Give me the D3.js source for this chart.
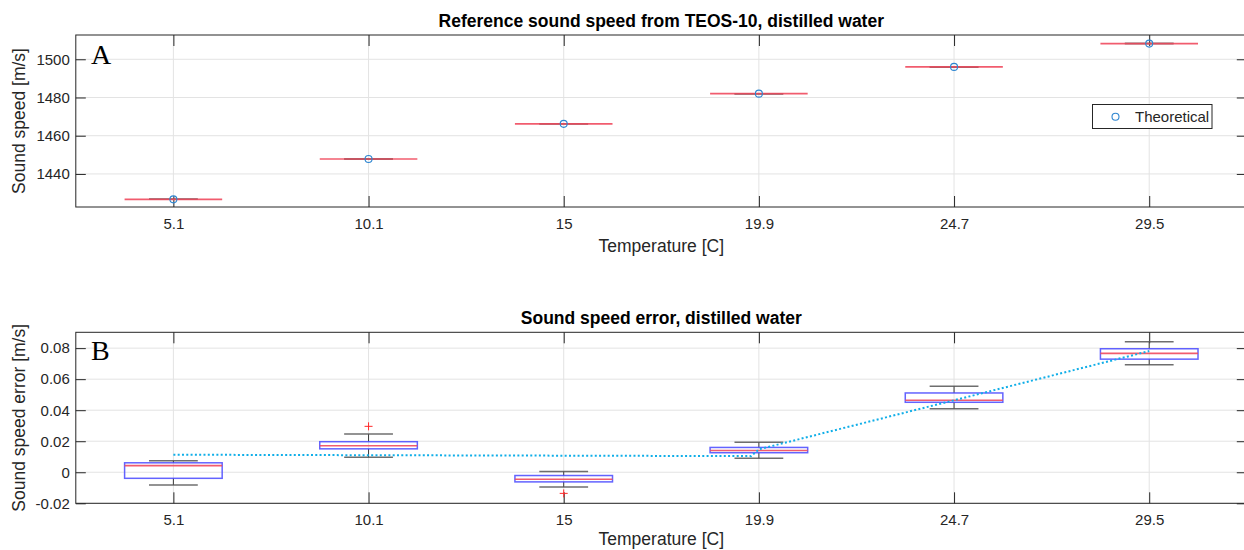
<!DOCTYPE html>
<html>
<head>
<meta charset="utf-8">
<script src="https://cdn.jsdelivr.net/npm/d3@7/dist/d3.min.js"></script>
<style>
  html, body { margin: 0; padding: 0; background: #ffffff; }
  svg { display: block; font-family: "Liberation Sans", Arial, Helvetica, sans-serif; }
</style>
</head>
<body>
<svg id="fig" width="1244" height="550"></svg>
<script>
// Temperature categories (deg C)
const categories = ["5.1", "10.1", "15", "19.9", "24.7", "29.5"];

// Panel A: reference sound speed (m/s) per temperature
const speedRef = [1426.7, 1447.8, 1466.2, 1482.0, 1496.0, 1508.2];
const speedTicks = [1440, 1460, 1480, 1500];

// Panel B: sound speed error box statistics (m/s)
const errLo  = [-0.0082, 0.0097, -0.0095, 0.0091, 0.0410, 0.0693];
const errQ1  = [-0.0039, 0.0151, -0.0062, 0.0126, 0.0451, 0.0729];
const errMed = [ 0.0043, 0.0171, -0.0045, 0.0140, 0.0464, 0.0766];
const errQ3  = [ 0.0061, 0.0197, -0.0021, 0.0160, 0.0511, 0.0796];
const errHi  = [ 0.0074, 0.0246,  0.0005, 0.0194, 0.0555, 0.0841];
const outlierCat = [1, 2];
const outlierVal = [0.0296, -0.0136];
const errTicks = [-0.02, 0, 0.02, 0.04, 0.06, 0.08];
const errTickLabels = ["-0.02", "0", "0.02", "0.04", "0.06", "0.08"];

// Panel B: dotted trend of the error
const trendPos = [1, 2, 3, 3.96, 4, 5, 6];
const trendVal = [0.0113, 0.0110, 0.0107, 0.0104, 0.0148, 0.0464, 0.0781];

const svg = d3.select("#fig");
const AX = "#262626";
const GRID = "#e3e3e3";

const x = d3.scaleLinear().domain([0.5, 6.5]).range([75.8, 1246.8]);
const catPos = categories.map((c, i) => i + 1);

function panel(cfg) {
  const g = svg.append("g");
  const y = cfg.y;
  const [y0, y1] = y.range(); // bottom, top

  // grid
  g.append("g").selectAll("line.gy").data(cfg.ticks).join("line")
    .attr("x1", x.range()[0]).attr("x2", x.range()[1])
    .attr("y1", d => y(d)).attr("y2", d => y(d))
    .attr("stroke", GRID).attr("stroke-width", 1);
  g.append("g").selectAll("line.gx").data(catPos).join("line")
    .attr("x1", d => x(d)).attr("x2", d => x(d))
    .attr("y1", y1).attr("y2", y0)
    .attr("stroke", GRID).attr("stroke-width", 1);

  // axes with inward ticks
  const left = d3.axisLeft(y).tickValues(cfg.ticks).tickSizeInner(-10).tickSizeOuter(0).tickPadding(6)
    .tickFormat((d, i) => cfg.tickLabels[i]);
  const right = d3.axisRight(y).tickValues(cfg.ticks).tickSizeInner(-10).tickSizeOuter(0).tickFormat("");
  const bottom = d3.axisBottom(x).tickValues(catPos).tickSizeInner(-11).tickSizeOuter(0).tickPadding(11)
    .tickFormat((d, i) => categories[i]);
  const top = d3.axisTop(x).tickValues(catPos).tickSizeInner(-11).tickSizeOuter(0).tickFormat("");

  const styleAxis = a => {
    a.select(".domain").remove();
    a.selectAll(".tick line").attr("stroke", AX).attr("stroke-width", 1);
    a.selectAll(".tick text").attr("fill", AX).attr("font-size", 15)
      .attr("font-family", "Liberation Sans, Arial, Helvetica, sans-serif");
  };
  g.append("g").attr("transform", `translate(${x.range()[0]},0)`).call(left).call(styleAxis);
  g.append("g").attr("transform", `translate(${x.range()[1]},0)`).call(right).call(styleAxis);
  g.append("g").attr("transform", `translate(0,${y0})`).call(bottom).call(styleAxis);
  g.append("g").attr("transform", `translate(0,${y1})`).call(top).call(styleAxis);

  g.append("rect").attr("x", x.range()[0]).attr("y", y1)
    .attr("width", x.range()[1] - x.range()[0]).attr("height", y0 - y1)
    .attr("fill", "none").attr("stroke", AX).attr("stroke-width", 1);

  // titles and labels
  const cx = (x.range()[0] + x.range()[1]) / 2;
  g.append("text").attr("x", cx).attr("y", y1 - 8).attr("text-anchor", "middle")
    .attr("font-size", 17.5).attr("font-weight", "bold").attr("fill", "#000")
    .text(cfg.title);
  g.append("text").attr("x", cx).attr("y", y0 + cfg.xlabelDy).attr("text-anchor", "middle")
    .attr("font-size", 17.5).attr("fill", AX).text("Temperature [C]");
  g.append("text").attr("transform", `translate(25,${(y0 + y1) / 2}) rotate(-90)`)
    .attr("text-anchor", "middle").attr("font-size", 17.5).attr("fill", AX).text(cfg.ylabel);
  g.append("text").attr("x", 91).attr("y", y1 + cfg.letterDy)
    .attr("font-family", "Liberation Serif, Times New Roman, serif")
    .attr("font-size", 28).attr("fill", "#000").text(cfg.letter);

  return g;
}

function boxes(g, y, lo, q1, med, q3, hi) {
  const bw = 0.25, cw = 0.125;
  const idx = d3.range(categories.length);
  // whiskers
  g.append("g").selectAll("line").data(idx).join("line")
    .attr("x1", i => x(i + 1)).attr("x2", i => x(i + 1))
    .attr("y1", i => y(hi[i])).attr("y2", i => y(q3[i]))
    .attr("stroke", "#3a3a3a").attr("stroke-width", 1);
  g.append("g").selectAll("line").data(idx).join("line")
    .attr("x1", i => x(i + 1)).attr("x2", i => x(i + 1))
    .attr("y1", i => y(q1[i])).attr("y2", i => y(lo[i]))
    .attr("stroke", "#3a3a3a").attr("stroke-width", 1);
  // caps
  [hi, lo].forEach(arr => {
    g.append("g").selectAll("line").data(idx).join("line")
      .attr("x1", i => x(i + 1 - cw)).attr("x2", i => x(i + 1 + cw))
      .attr("y1", i => y(arr[i])).attr("y2", i => y(arr[i]))
      .attr("stroke", "#555").attr("stroke-width", 1.5).attr("stroke-opacity", 0.85);
  });
  // boxes
  g.append("g").selectAll("rect").data(idx).join("rect")
    .attr("x", i => x(i + 1 - bw)).attr("width", i => x(i + 1 + bw) - x(i + 1 - bw))
    .attr("y", i => y(q3[i])).attr("height", i => Math.max(0, y(q1[i]) - y(q3[i])))
    .attr("fill", "none").attr("stroke", "#4848ff").attr("stroke-width", 1.5).attr("stroke-opacity", 0.85);
  // medians
  g.append("g").selectAll("line").data(idx).join("line")
    .attr("x1", i => x(i + 1 - bw)).attr("x2", i => x(i + 1 + bw))
    .attr("y1", i => y(med[i])).attr("y2", i => y(med[i]))
    .attr("stroke", "#f04a5e").attr("stroke-width", 1.6).attr("stroke-opacity", 0.9);
}

// ---- Panel A ----
const yA = d3.scaleLinear().domain([1422.7, 1512.7]).range([207, 35]);
const gA = panel({
  y: yA, ticks: speedTicks, tickLabels: speedTicks.map(String),
  title: "Reference sound speed from TEOS-10, distilled water",
  ylabel: "Sound speed [m/s]", letter: "A", letterDy: 28.5, xlabelDy: 45
});
boxes(gA, yA, speedRef, speedRef, speedRef, speedRef, speedRef);
gA.append("g").selectAll("circle").data(speedRef).join("circle")
  .attr("cx", (d, i) => x(i + 1)).attr("cy", d => yA(d)).attr("r", 3.5)
  .attr("fill", "none").attr("stroke", "#2e86d1").attr("stroke-width", 1.1);

// legend
const lg = gA.append("g");
lg.append("rect").attr("x", 1092.5).attr("y", 104.5).attr("width", 119.5).attr("height", 24)
  .attr("fill", "#fff").attr("stroke", AX).attr("stroke-width", 1);
lg.append("circle").attr("cx", 1115.5).attr("cy", 116.7).attr("r", 3.5)
  .attr("fill", "none").attr("stroke", "#2e86d1").attr("stroke-width", 1.1);
lg.append("text").attr("x", 1135).attr("y", 122).attr("font-size", 15).attr("fill", AX).text("Theoretical");

// ---- Panel B ----
const yB = d3.scaleLinear().domain([-0.02, 0.0902]).range([503.3, 332.3]);
const gB = panel({
  y: yB, ticks: errTicks, tickLabels: errTickLabels,
  title: "Sound speed error, distilled water",
  ylabel: "Sound speed error [m/s]", letter: "B", letterDy: 28, xlabelDy: 42
});
boxes(gB, yB, errLo, errQ1, errMed, errQ3, errHi);

// outliers
const plus = d3.symbol().type(d3.symbolCross).size(30);
gB.append("g").selectAll("g").data(outlierVal).join("g")
  .attr("transform", (d, i) => `translate(${x(outlierCat[i] + 1)},${yB(d)})`)
  .each(function () {
    const s = d3.select(this);
    s.append("line").attr("x1", -4).attr("x2", 4).attr("stroke", "#ff2a2a").attr("stroke-width", 1);
    s.append("line").attr("y1", -4).attr("y2", 4).attr("stroke", "#ff2a2a").attr("stroke-width", 1);
  });

// dotted trend
const line = d3.line().x(d => x(d[0])).y(d => yB(d[1]));
gB.append("path").datum(trendPos.map((p, i) => [p, trendVal[i]]))
  .attr("d", line).attr("fill", "none").attr("stroke", "#10aee8")
  .attr("stroke-width", 2).attr("stroke-dasharray", "2,2.3");
</script>
</body>
</html>
